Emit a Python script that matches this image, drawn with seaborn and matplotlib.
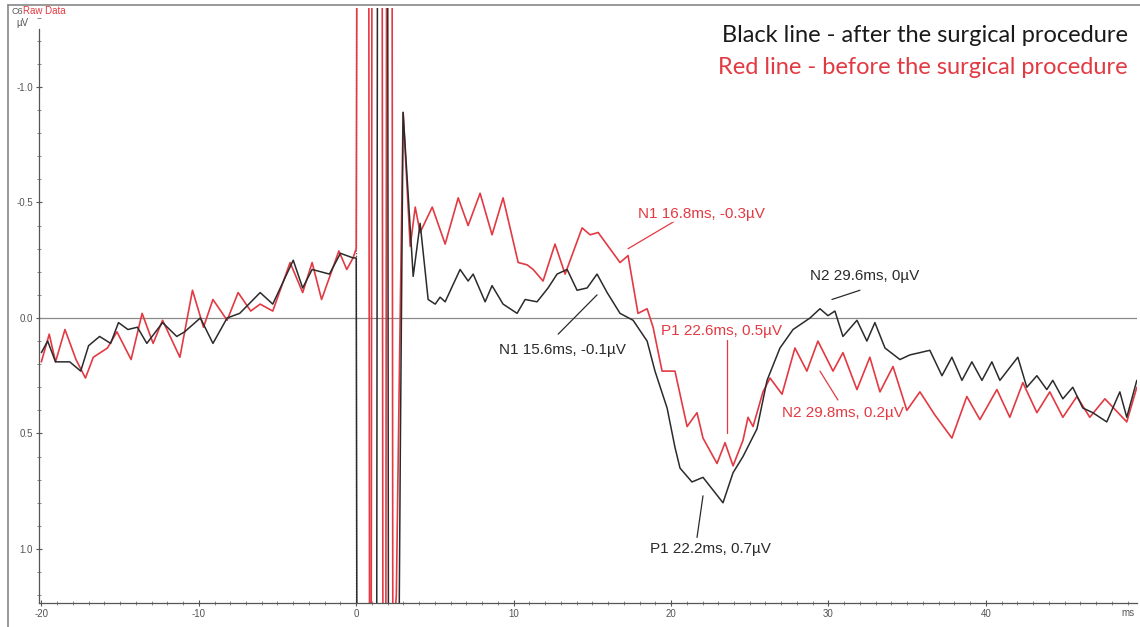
import numpy as np
import pandas as pd
import matplotlib
matplotlib.use("Agg")
import matplotlib.pyplot as plt
from matplotlib.lines import Line2D
from matplotlib.ticker import MultipleLocator
import seaborn as sns

# ---- data (time in ms, amplitude in µV, negative up) ----
after_ms = [
    -20.0, -19.6, -19.1, -18.2, -17.5, -17.0, -16.3, -15.6, -15.1, -14.5,
    -13.9, -13.3, -12.3, -11.4, -10.9, -9.9, -9.1, -8.2, -7.4, -6.1,
    -5.3, -4.0, -3.4, -2.8, -1.7, -1.0, -0.2, 0.0,
    0.05, 1.3, 1.35, 2.0, 2.05, 2.7, 2.8,
    2.98, 3.62, 4.06, 4.57, 5.02, 5.33, 5.65, 6.60, 7.11, 7.43,
    8.19, 8.63, 9.33, 10.22, 10.73, 11.49, 12.19, 12.76, 13.40, 14.03,
    14.67, 15.30, 15.94, 16.76, 17.59, 18.48, 18.98, 19.75, 20.25, 20.57,
    21.33, 22.03, 23.30, 23.94, 24.57, 25.46, 26.10, 26.92, 27.75, 28.83,
    29.46, 29.97, 30.41, 30.92, 31.81, 32.44, 32.95, 33.59, 34.54, 35.17,
    35.81, 36.44, 37.21, 37.84, 38.48, 39.11, 39.75, 40.38, 40.89, 42.03,
    42.60, 43.24, 43.87, 44.25, 44.89, 45.52, 46.16, 46.79, 47.68, 48.51,
    48.95, 49.59,
]
after_uv = [
    0.15, 0.10, 0.19, 0.19, 0.23, 0.12, 0.08, 0.11, 0.02, 0.05,
    0.04, 0.11, 0.02, 0.08, 0.06, 0.00, 0.11, 0.00, -0.02, -0.11,
    -0.06, -0.25, -0.13, -0.21, -0.19, -0.28, -0.26, -0.26,
    1.6, 1.6, -1.6, -1.6, 1.6, 1.6, 0.6,
    -0.89, -0.18, -0.41, -0.08, -0.06, -0.09, -0.07, -0.21, -0.16, -0.19,
    -0.07, -0.14, -0.06, -0.02, -0.08, -0.07, -0.13, -0.19, -0.21, -0.12,
    -0.13, -0.19, -0.11, -0.02, 0.01, 0.10, 0.23, 0.39, 0.56, 0.65,
    0.71, 0.69, 0.80, 0.67, 0.60, 0.48, 0.27, 0.13, 0.05, 0.00,
    -0.04, -0.01, -0.03, 0.08, 0.01, 0.10, 0.02, 0.13, 0.18, 0.16,
    0.15, 0.14, 0.25, 0.17, 0.27, 0.19, 0.27, 0.19, 0.27, 0.17,
    0.30, 0.25, 0.31, 0.27, 0.35, 0.30, 0.39, 0.41, 0.45, 0.32,
    0.43, 0.27,
]

before_ms = [
    -20.0, -19.5, -19.1, -18.5, -17.8, -17.2, -16.7, -15.8, -15.2, -14.3,
    -13.6, -12.9, -12.3, -11.2, -10.4, -9.7, -9.1, -8.2, -7.5, -6.7,
    -6.1, -5.3, -4.2, -3.4, -2.8, -2.2, -1.1, -0.6, -0.2, 0.0,
    0.05, 0.8, 0.85, 0.95, 1.0, 1.65, 1.7, 1.88, 1.93, 2.28, 2.33, 2.45,
    2.55, 2.75,
    2.98, 3.43, 3.75, 4.06, 4.83, 5.65, 6.48, 7.11, 7.87, 8.63,
    9.33, 10.29, 10.86, 11.24, 11.87, 12.63, 13.27, 14.35, 14.86, 15.37,
    16.76, 17.27, 17.90, 18.48, 18.86, 19.43, 20.25, 21.02, 21.65, 22.03,
    22.92, 23.43, 23.94, 24.57, 24.89, 25.21, 25.84, 26.29, 27.05, 27.87,
    28.63, 29.33, 30.29, 30.92, 31.81, 32.63, 33.27, 34.10, 34.98, 35.81,
    36.76, 37.84, 38.79, 39.62, 40.70, 41.52, 42.35, 43.24, 44.06, 44.89,
    45.78, 46.60, 47.56, 48.95, 49.59,
]
before_uv = [
    0.19, 0.07, 0.19, 0.05, 0.18, 0.26, 0.17, 0.13, 0.06, 0.18,
    -0.02, 0.11, 0.01, 0.17, -0.12, 0.04, -0.08, 0.01, -0.11, -0.03,
    -0.06, -0.03, -0.24, -0.11, -0.24, -0.08, -0.29, -0.21, -0.26, -0.30,
    -1.6, -1.6, 1.6, 1.6, -1.6, -1.6, 1.6, 1.6, -1.6, -1.6, 1.6, 1.3,
    1.2, 0.2,
    -0.89, -0.31, -0.48, -0.37, -0.48, -0.32, -0.52, -0.40, -0.54, -0.36,
    -0.52, -0.24, -0.23, -0.21, -0.16, -0.32, -0.19, -0.39, -0.36, -0.37,
    -0.24, -0.27, -0.02, -0.04, 0.04, 0.23, 0.23, 0.47, 0.41, 0.52,
    0.63, 0.54, 0.64, 0.53, 0.43, 0.47, 0.32, 0.26, 0.33, 0.13,
    0.23, 0.10, 0.23, 0.15, 0.31, 0.17, 0.32, 0.21, 0.40, 0.32,
    0.42, 0.52, 0.34, 0.44, 0.31, 0.43, 0.28, 0.41, 0.32, 0.43,
    0.34, 0.43, 0.35, 0.45, 0.30,
]

# peak labels: (text, pointer from, pointer to, text position)
black_labels = [
    ("N1 15.6ms, -0.1µV", (15.30, -0.10), (12.83, 0.07), (13.1, 0.14)),
    ("P1 22.2ms, 0.7µV", (22.03, 0.77), (21.65, 0.95), (22.5, 1.00)),
    ("N2 29.6ms, 0µV", (30.22, -0.08), (32.0, -0.12), (32.3, -0.18)),
]
red_labels = [
    ("N1 16.8ms, -0.3µV", (17.27, -0.30), (20.25, -0.42), (21.9, -0.45)),
    ("P1 22.6ms, 0.5µV", (23.56, 0.50), (23.56, 0.095), (23.2, 0.056)),
    ("N2 29.8ms, 0.2µV", (29.46, 0.23), (30.6, 0.355), (30.9, 0.41)),
]

BLACK = "#2b2b2b"
RED = "#e23a43"

sns.set_style("white")
plt.rcParams["font.family"] = ["Liberation Sans", "DejaVu Sans"]

fig = plt.figure(figsize=(11.4, 6.27), dpi=100)
ax = fig.add_axes([39 / 1140, 1 - 603 / 627, (1137 - 39) / 1140, (603 - 8) / 627])

after_df = pd.DataFrame({"ms": after_ms, "uv": after_uv})
before_df = pd.DataFrame({"ms": before_ms, "uv": before_uv})

ax.axhline(0, color="#8a8a8a", lw=0.9, zorder=1)
ax.axvline(0, color="#555555", lw=0.9, ls=(0, (1, 1.2)), zorder=1)

sns.lineplot(data=before_df, x="ms", y="uv", color=RED, lw=1.2, sort=False,
             estimator=None, ax=ax, zorder=2)
sns.lineplot(data=after_df, x="ms", y="uv", color=BLACK, lw=1.1, sort=False,
             estimator=None, ax=ax, zorder=3)

ax.set_xlim(-20.15, 49.6)
ax.set_ylim(1.234, -1.342)

ax.xaxis.set_major_locator(MultipleLocator(10))
ax.xaxis.set_minor_locator(MultipleLocator(1))
ax.yaxis.set_major_locator(MultipleLocator(0.5))
ax.yaxis.set_minor_locator(MultipleLocator(0.1))
ax.set_yticks([-1.0, -0.5, 0.0, 0.5, 1.0])
ax.set_yticklabels(["-1.0", "-0.5", "0.0", "0.5", "1.0"])
ax.set_xticks([-20, -10, 0, 10, 20, 30, 40])
ax.set_xticklabels(["-20", "-10", "0", "10", "20", "30", "40"])

ax.tick_params(axis="both", which="major", direction="inout", length=5,
               width=0.8, color="#555555", labelsize=7, labelcolor="#555555", pad=2)
ax.tick_params(axis="both", which="minor", direction="inout", length=3,
               width=0.6, color="#777777")
ax.tick_params(left=True, bottom=True, which="both")
ax.set_xlabel("")
ax.set_ylabel("")

for side in ("top", "right"):
    ax.spines[side].set_visible(False)
for side in ("left", "bottom"):
    ax.spines[side].set_color("#555555")
    ax.spines[side].set_linewidth(0.9)
ax.spines["left"].set_bounds(1.234, -1.25)

# peak annotations
for labels, col in ((black_labels, BLACK), (red_labels, RED)):
    for txt, p0, p1, pos in labels:
        ax.plot([p0[0], p1[0]], [p0[1], p1[1]], color=col, lw=0.9, zorder=4)
        ax.text(pos[0], pos[1], txt, color=col, fontsize=11, ha="center",
                va="center", zorder=5,
                bbox=dict(facecolor="white", edgecolor="none", pad=0.5, alpha=0.85))

# header / legend texts
fig.text(1128 / 1140, 1 - 36 / 627, "Black line - after the surgical procedure",
         color="#1a1a1a", fontsize=17, ha="right", va="center", family=["Lato", "DejaVu Sans"])
fig.text(1128 / 1140, 1 - 68 / 627, "Red line - before the surgical procedure",
         color=RED, fontsize=17, ha="right", va="center", family=["Lato", "DejaVu Sans"])
fig.text(11 / 1140, 1 - 11 / 627, "C6", color="#555555", fontsize=6.5, ha="left", va="center")
fig.text(23 / 1140, 1 - 11 / 627, "Raw Data", color=RED, fontsize=7, ha="left", va="center")
fig.text(16 / 1140, 1 - 23 / 627, "µV", color="#555555", fontsize=7, ha="left", va="center")
fig.text(1128 / 1140, 1 - 613 / 627, "ms", color="#555555", fontsize=7, ha="center", va="center")

# outer frame lines
fig.add_artist(Line2D([8 / 1140, 8 / 1140], [0, 1 - 5 / 627], color="#888888", lw=1.2))
fig.add_artist(Line2D([8 / 1140, 1], [1 - 5 / 627, 1 - 5 / 627], color="#888888", lw=1.2))

fig.savefig("out.png", dpi=100)
